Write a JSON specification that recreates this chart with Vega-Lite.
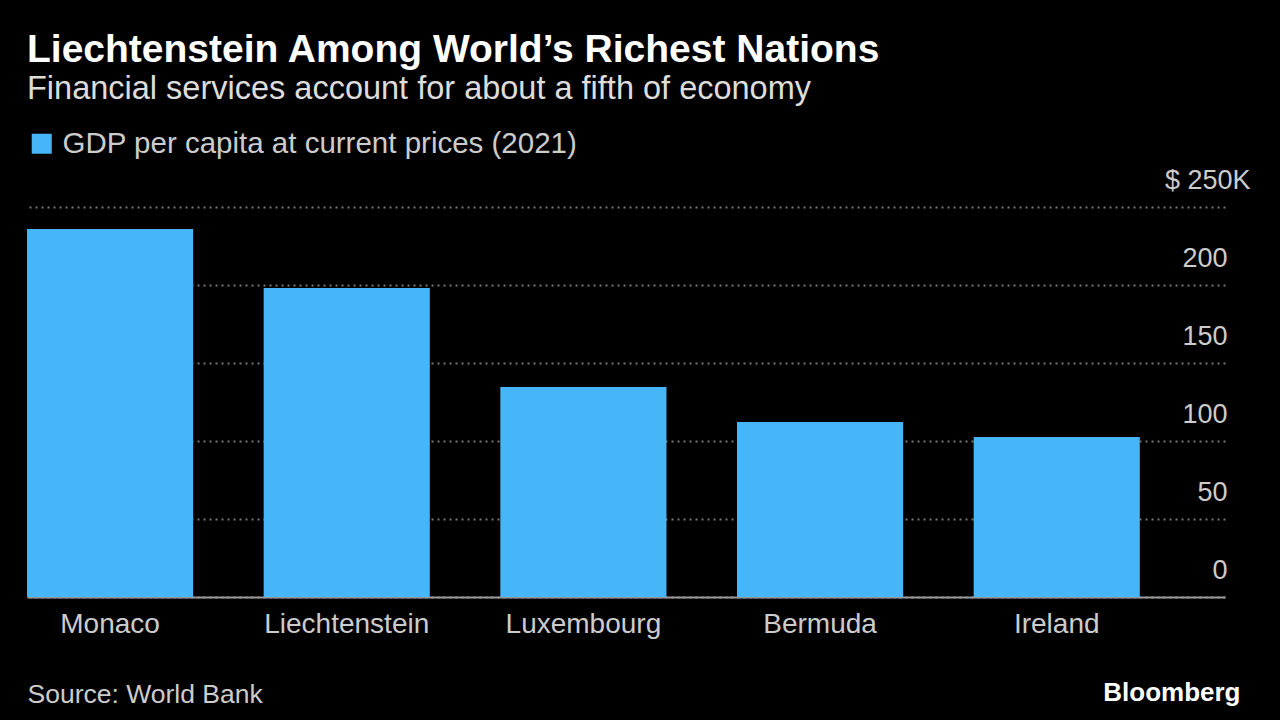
{
  "$schema": "https://vega.github.io/schema/vega-lite/v6.json",
  "autosize": {"type": "none"},
  "width": 1198,
  "height": 390,
  "padding": {"left": 27, "right": 55, "top": 207, "bottom": 123},
  "background": "#000000",
  "title": {
    "text": "Liechtenstein Among World’s Richest Nations",
    "subtitle": "Financial services account for about a fifth of economy",
    "anchor": "start",
    "frame": "group",
    "offset": 24,
    "font": "Liberation Sans",
    "fontSize": 39,
    "fontWeight": "bold",
    "color": "#ffffff",
    "subtitleFont": "Liberation Sans",
    "subtitleFontSize": 32.5,
    "subtitleColor": "#dddddd",
    "subtitlePadding": 3
  },
  "data": {
    "values": [
      {"country": "Monaco", "gdp": 235.9, "series": "GDP per capita at current prices (2021)"},
      {"country": "Liechtenstein", "gdp": 198.0, "series": "GDP per capita at current prices (2021)"},
      {"country": "Luxembourg", "gdp": 134.6, "series": "GDP per capita at current prices (2021)"},
      {"country": "Bermuda", "gdp": 112.2, "series": "GDP per capita at current prices (2021)"},
      {"country": "Ireland", "gdp": 102.6, "series": "GDP per capita at current prices (2021)"}
    ]
  },
  "mark": {"type": "bar"},
  "encoding": {
    "x": {
      "field": "country",
      "type": "nominal",
      "sort": null,
      "scale": {"paddingInner": 0.298, "paddingOuter": 0.18, "align": 0},
      "axis": {
        "title": "Source: World Bank",
        "titleFont": "Liberation Sans",
        "titleFontSize": 26.5,
        "titleFontWeight": "normal",
        "titleColor": "#cccccc",
        "titleAnchor": "start",
        "titleAlign": "left",
        "titleBaseline": "alphabetic",
        "titleX": 0,
        "titleY": 105,
        "labelAngle": 0,
        "labelFont": "Liberation Sans",
        "labelFontSize": 28,
        "labelColor": "#cccccc",
        "labelPadding": 13,
        "ticks": false,
        "domain": true,
        "domainColor": "#999999",
        "domainWidth": 2,
        "grid": false
      }
    },
    "y": {
      "field": "gdp",
      "type": "quantitative",
      "scale": {"domain": [0, 250]},
      "axis": {
        "orient": "right",
        "values": [0, 50, 100, 150, 200, 250],
        "labelExpr": "datum.value == 250 ? '$ 250K' : datum.label",
        "labelAlign": "right",
        "labelBaseline": "alphabetic",
        "labelOffset": -19,
        "labelPadding": {"condition": {"test": "datum.value == 250", "value": 25}, "value": 2},
        "labelFont": "Liberation Sans",
        "labelFontSize": 27,
        "labelColor": "#cccccc",
        "ticks": false,
        "domain": false,
        "grid": true,
        "gridColor": "#777777",
        "gridDash": [2, 4],
        "gridWidth": 2,
        "title": "Bloomberg",
        "titleAngle": 0,
        "titleAlign": "right",
        "titleBaseline": "alphabetic",
        "titleX": 15,
        "titleY": 493,
        "titleFont": "Liberation Sans",
        "titleFontSize": 26,
        "titleFontWeight": "bold",
        "titleColor": "#ffffff"
      }
    },
    "color": {
      "field": "series",
      "type": "nominal",
      "scale": {"range": ["#47B6F9"]},
      "legend": {
        "title": null,
        "orient": "none",
        "legendX": 0,
        "legendY": -78,
        "symbolType": "square",
        "symbolSize": 400,
        "symbolStrokeWidth": 0,
        "labelFont": "Liberation Sans",
        "labelFontSize": 29.5,
        "labelLimit": 0,
        "labelColor": "#cccccc",
        "labelOffset": 6
      }
    }
  },
  "config": {"view": {"stroke": null}}
}
